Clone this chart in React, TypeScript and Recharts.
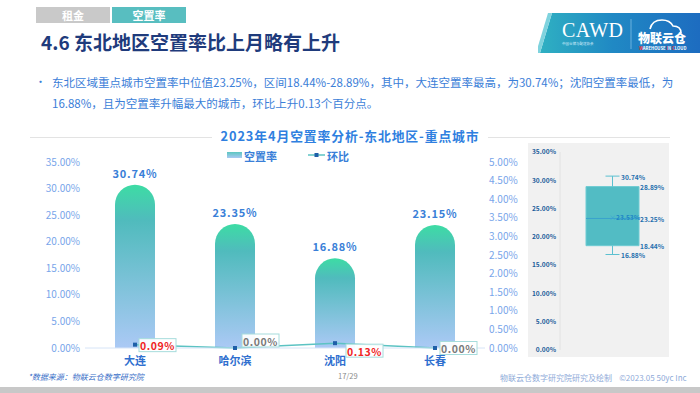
import React from 'react';
import {
  ComposedChart,
  Bar,
  Line,
  XAxis,
  YAxis,
  LabelList,
  ReferenceArea,
  ReferenceLine,
  ReferenceDot,
} from 'recharts';

// ---------- data ----------
const cities = ['大连', '哈尔滨', '沈阳', '长春'];
const vacancyRates = [30.74, 23.35, 16.88, 23.15];
const momChanges = [0.09, 0.0, 0.13, 0.0];
const leftTicks = [0, 5, 10, 15, 20, 25, 30, 35];
const rightTicks = [0, 0.5, 1, 1.5, 2, 2.5, 3, 3.5, 4, 4.5, 5];
const boxTicks = [0, 5, 10, 15, 20, 25, 30, 35];
const boxMin = 16.88;
const boxQ1 = 18.44;
const boxMedian = 23.25;
const boxMean = 23.53;
const boxQ3 = 28.89;
const boxMax = 30.74;

const chartData = cities.map((c, i) => ({ city: c, rate: vacancyRates[i], mom: momChanges[i] }));
const boxFrame = [
  { x: 0, y: 0 },
  { x: 109, y: 35 },
];

const FONT = "'Noto Sans CJK SC', 'Noto Sans', sans-serif";
const pct = (v: number) => `${Number(v).toFixed(2)}%`;

// label placement (style only)
const momOffsets = [
  { dx: 4, dy: 0.5 },
  { dx: 7, dy: -7.5 },
  { dx: 11, dy: 7.5 },
  { dx: 5, dy: 0 },
];

const SquareDot = (props: any) => {
  const { cx, cy, index } = props;
  if (cx == null || cy == null) return null;
  return <rect key={`d${index}`} x={cx - 2} y={cy - 2} width={4} height={4} fill="#1f5fa8" />;
};

const MomLabel = (props: any) => {
  const { x, y, value, index } = props;
  if (x == null || y == null) return null;
  const o = momOffsets[index] || { dx: 4, dy: 0 };
  const w = 37;
  const h = 13;
  const bx = x + o.dx;
  const cy = y + o.dy;
  return (
    <g>
      <rect x={bx} y={cy - h / 2} width={w} height={h} fill="#ffffff" fillOpacity={0.92} stroke="#a6dcdc" strokeWidth={1} />
      <text
        x={bx + w / 2}
        y={cy + 0.5}
        textAnchor="middle"
        dominantBaseline="central"
        fill={Number(value) > 0 ? '#f02424' : '#7a7a7a'}
        fontSize={10.5}
        fontWeight={700}
        letterSpacing={0.6}
        fontFamily={FONT}
      >
        {pct(value)}
      </text>
    </g>
  );
};

const boxText = (label: string, dx: number, color = '#1f6fae', cross = false) => (p: any) => {
  const { cx, cy } = p;
  if (cx == null || cy == null) return <g />;
  return (
    <g>
      {cross && (
        <text x={cx} y={cy + 0.5} textAnchor="middle" dominantBaseline="central" fontSize={7} fill="#3aa3d6" fontFamily={FONT}>
          ×
        </text>
      )}
      <text
        x={cx + dx}
        y={cy + 0.5}
        textAnchor="start"
        dominantBaseline="central"
        fontSize={6.6}
        fontWeight={700}
        fill={color}
        fontFamily={FONT}
      >
        {label}
      </text>
    </g>
  );
};

const Logo = () => (
  <svg width={162} height={40} style={{ position: 'absolute', left: 538, top: 13 }}>
    <defs>
      <linearGradient id="logoGrad" x1="0" y1="0" x2="1" y2="0">
        <stop offset="0%" stopColor="#2fb0c2" />
        <stop offset="45%" stopColor="#2089c4" />
        <stop offset="100%" stopColor="#1d6cc0" />
      </linearGradient>
    </defs>
    <polygon points="14,0 162,0 162,40 2,40" fill="url(#logoGrad)" />
    <polygon points="10,0 14,0 2,40 -2,40" fill="#7fd3de" />
    <text x={24} y={24} fill="#ffffff" fontSize={20} fontFamily="'Liberation Serif', serif" letterSpacing={0.5}>
      CAWD
    </text>
    <text x={24} y={32} fill="#dff2ff" fontSize={3.5} fontFamily={FONT}>
      中国仓储与配送协会
    </text>
    <line x1={93} y1={6} x2={93} y2={36} stroke="#9fd2f0" strokeWidth={0.6} />
    <path d="M112,16 q2,-9 12,-9 q8,0 11,6 q8,0 8,7" fill="none" stroke="#ffffff" strokeWidth={1.6} />
    <text x={100} y={30} fill="#ffffff" fontSize={12} fontWeight={900} fontFamily={FONT}>
      物联云仓
    </text>
    <text x={101} y={37} fontSize={4.2} fontWeight={700} fontFamily={FONT} fill="#ffffff">
      <tspan fill="#ff4040">W</tspan>AREHOUSE <tspan fill="#ff4040">I</tspan>N <tspan fill="#ff4040">C</tspan>LOUD
    </text>
  </svg>
);

export default function App() {
  return (
    <div
      style={{
        position: 'absolute',
        left: 0,
        top: 0,
        width: 700,
        height: 393,
        overflow: 'hidden',
        background: '#ffffff',
        fontFamily: FONT,
      }}
    >
      {/* header tabs */}
      <div style={{ position: 'absolute', left: 36, top: 7, width: 74, height: 16, background: '#c9c9c9', color: '#fff', fontSize: 11, fontWeight: 700, textAlign: 'center', lineHeight: '16px' }}>
        租金
      </div>
      <div style={{ position: 'absolute', left: 112, top: 7, width: 74, height: 16, background: '#58bec0', color: '#fff', fontSize: 11, fontWeight: 700, textAlign: 'center', lineHeight: '16px' }}>
        空置率
      </div>
      <div style={{ position: 'absolute', left: 41, top: 29, fontSize: 19, fontWeight: 700, color: '#1f3b7c', lineHeight: '26px', whiteSpace: 'nowrap' }}>
        4.6 东北地区空置率比上月略有上升
      </div>
      <Logo />

      {/* bullet text */}
      <div style={{ position: 'absolute', left: 35, top: 73, fontSize: 11, color: '#3b7ed8' }}>•</div>
      <div style={{ position: 'absolute', left: 52, top: 72, width: 640, fontSize: 11.5, color: '#3b7ed8', lineHeight: '20.5px' }}>
        东北区域重点城市空置率中位值23.25%，区间18.44%-28.89%，其中，大连空置率最高，为30.74%；沈阳空置率最低，为16.88%，且为空置率升幅最大的城市，环比上升0.13个百分点。
      </div>

      {/* chart title */}
      <div style={{ position: 'absolute', left: 30, top: 137, width: 182, height: 1, background: '#e3e3e3' }} />
      <div style={{ position: 'absolute', left: 488, top: 137, width: 182, height: 1, background: '#e3e3e3' }} />
      <div style={{ position: 'absolute', left: 200, top: 127, width: 300, textAlign: 'center', fontSize: 12.8, fontWeight: 700, color: '#2f7fe0', letterSpacing: 0.9, lineHeight: '18px', whiteSpace: 'nowrap' }}>
        2023年4月空置率分析-东北地区-重点城市
      </div>

      {/* legend */}
      <svg width={140} height={14} style={{ position: 'absolute', left: 224, top: 148 }}>
        <defs>
          <linearGradient id="legGrad" x1="0" y1="0" x2="0" y2="1">
            <stop offset="0%" stopColor="#5cc6c0" />
            <stop offset="100%" stopColor="#a9c9f3" />
          </linearGradient>
        </defs>
        <rect x={3} y={4} width={15} height={6} fill="url(#legGrad)" />
        <text x={20} y={7.5} dominantBaseline="central" fontSize={11} fontWeight={700} fill="#3a7fd8" fontFamily={FONT}>
          空置率
        </text>
        <line x1={84} y1={7} x2={101} y2={7} stroke="#5cc3c3" strokeWidth={1.5} />
        <rect x={90.5} y={5} width={4} height={4} fill="#1f5fa8" />
        <text x={103} y={7.5} dominantBaseline="central" fontSize={11} fontWeight={700} fill="#3a7fd8" fontFamily={FONT}>
          环比
        </text>
      </svg>

      {/* main chart */}
      <div style={{ position: 'absolute', left: 0, top: 0 }}>
        <ComposedChart width={700} height={393} data={chartData} margin={{ top: 162, right: 175, bottom: 15, left: 0 }}>
          <defs>
            <linearGradient id="barGrad" x1="0" y1="0" x2="0" y2="1">
              <stop offset="0%" stopColor="#3ddca4" />
              <stop offset="22%" stopColor="#50bbbd" />
              <stop offset="100%" stopColor="#abc9f5" />
            </linearGradient>
          </defs>
          <XAxis
            dataKey="city"
            axisLine={{ stroke: '#d6e4f7' }}
            tickLine={false}
            tickSize={0}
            tickMargin={9}
            height={30}
            interval={0}
            tick={{ fill: '#2f6fcf', fontSize: 11, fontWeight: 700, fontFamily: FONT }}
          />
          <YAxis
            yAxisId="left"
            domain={[0, 35]}
            ticks={leftTicks}
            interval={0}
            width={85}
            axisLine={false}
            tickLine={false}
            tickSize={0}
            tickMargin={5}
            tickFormatter={pct}
            tick={{ fill: '#78a5ea', fontSize: 10, fontFamily: FONT }}
          />
          <YAxis
            yAxisId="right"
            orientation="right"
            domain={[0, 5]}
            ticks={rightTicks}
            interval={0}
            width={40}
            axisLine={false}
            tickLine={false}
            tickSize={0}
            tickMargin={4}
            tickFormatter={pct}
            tick={{ fill: '#78a5ea', fontSize: 10, fontFamily: FONT }}
          />
          <Bar yAxisId="left" dataKey="rate" barSize={40} fill="url(#barGrad)" radius={[20, 20, 0, 0]} isAnimationActive={false}>
            <LabelList
              dataKey="rate"
              position="top"
              offset={7}
              formatter={(v: any) => pct(v)}
              style={{ fill: '#3a7fd8', fontSize: 11, fontWeight: 700, letterSpacing: 0.8, fontFamily: FONT }}
            />
          </Bar>
          <Line
            yAxisId="right"
            dataKey="mom"
            stroke="#5cc3c3"
            strokeWidth={1.5}
            dot={SquareDot}
            activeDot={false}
            isAnimationActive={false}
          >
            <LabelList dataKey="mom" content={MomLabel} />
          </Line>
        </ComposedChart>
      </div>

      {/* box plot panel */}
      <div style={{ position: 'absolute', left: 528, top: 143, width: 141, height: 214, background: '#f1f1f1' }} />
      <div style={{ position: 'absolute', left: 528, top: 143 }}>
        <ComposedChart width={141} height={214} data={boxFrame} margin={{ top: 9, right: 0, bottom: 7, left: 0 }}>
          <XAxis type="number" dataKey="x" domain={[0, 109]} hide allowDataOverflow />
          <YAxis
            type="number"
            dataKey="y"
            domain={[0, 35]}
            ticks={boxTicks}
            interval={0}
            width={32}
            allowDataOverflow
            tickLine={false}
            tickSize={0}
            tickMargin={4}
            axisLine={{ stroke: '#e2e2e2' }}
            tickFormatter={pct}
            tick={{ fill: '#1d5d9b', fontSize: 6.6, fontWeight: 700, fontFamily: FONT }}
          />
          <Line dataKey="y" stroke="none" dot={false} activeDot={false} isAnimationActive={false} />
          <ReferenceArea x1={26} x2={79} y1={boxQ1} y2={boxQ3} fill="#52bcc4" fillOpacity={1} stroke="#6fcbd3" strokeWidth={1} />
          <ReferenceLine segment={[{ x: 26, y: boxMedian }, { x: 79, y: boxMedian }]} stroke="#3aa3cc" strokeWidth={1} />
          <ReferenceLine segment={[{ x: 52.5, y: boxQ3 }, { x: 52.5, y: boxMax }]} stroke="#5cc0d0" strokeWidth={1} />
          <ReferenceLine segment={[{ x: 52.5, y: boxMin }, { x: 52.5, y: boxQ1 }]} stroke="#5cc0d0" strokeWidth={1} />
          <ReferenceLine segment={[{ x: 45.5, y: boxMax }, { x: 59.5, y: boxMax }]} stroke="#5cc0d0" strokeWidth={1} />
          <ReferenceLine segment={[{ x: 45.5, y: boxMin }, { x: 59.5, y: boxMin }]} stroke="#5cc0d0" strokeWidth={1} />
          <ReferenceDot x={59.5} y={boxMax} r={0} shape={boxText(pct(boxMax), 1.5)} />
          <ReferenceDot x={79} y={boxQ3} r={0} shape={boxText(pct(boxQ3), 1)} />
          <ReferenceDot x={79} y={boxMedian} r={0} shape={boxText(pct(boxMedian), 1)} />
          <ReferenceDot x={52.5} y={boxMean} r={0} shape={boxText(pct(boxMean), 3.5, '#1e86c6', true)} />
          <ReferenceDot x={79} y={boxQ1} r={0} shape={boxText(pct(boxQ1), 1)} />
          <ReferenceDot x={59.5} y={boxMin} r={0} shape={boxText(pct(boxMin), 1.5)} />
        </ComposedChart>
      </div>

      {/* footer */}
      <div style={{ position: 'absolute', left: 28, top: 371, fontSize: 8, fontStyle: 'italic', color: '#3a6fc8', whiteSpace: 'nowrap' }}>
        *数据来源：物联云仓数字研究院
      </div>
      <div style={{ position: 'absolute', left: 338, top: 370, fontSize: 7.5, color: '#8a8a8a' }}>17/29</div>
      <div style={{ position: 'absolute', left: 500, top: 372, fontSize: 8, color: '#8fabd9', whiteSpace: 'nowrap' }}>
        物联云仓数字研究院研究及绘制&nbsp;&nbsp;&nbsp;&nbsp;©2023.05 50yc Inc
      </div>
      <div style={{ position: 'absolute', left: 0, top: 387, width: 700, height: 6, background: '#c8c8c8' }} />
    </div>
  );
}
